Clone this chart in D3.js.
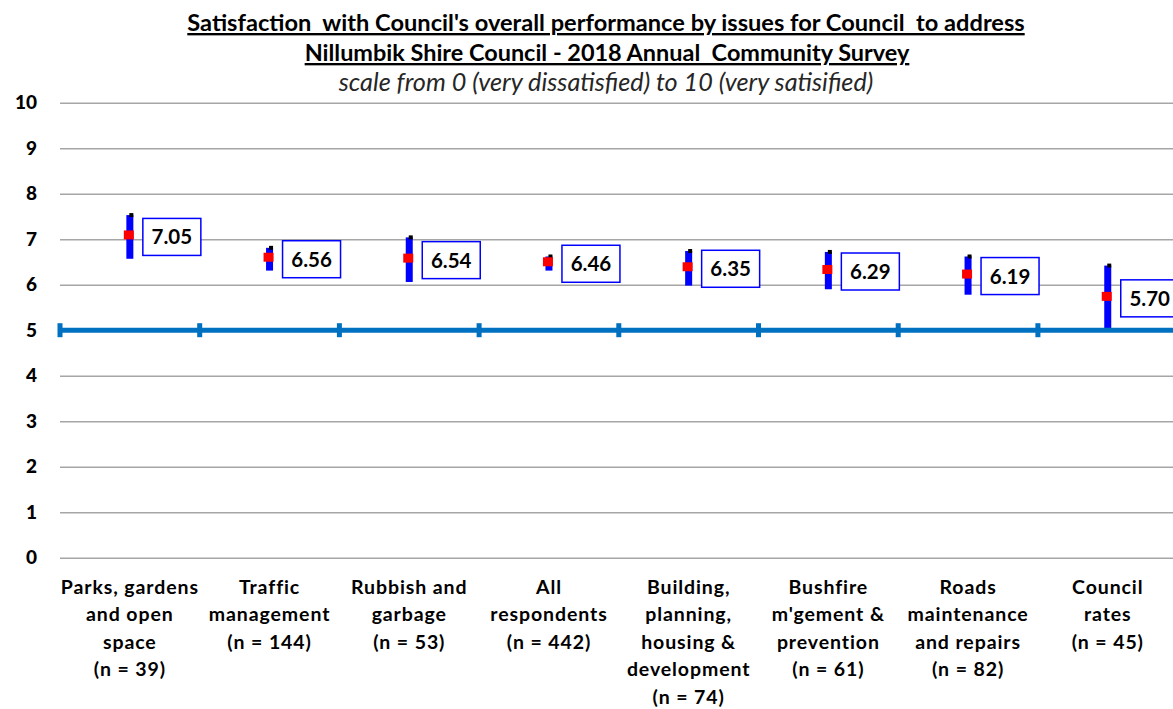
<!DOCTYPE html>
<html>
<head>
<meta charset="utf-8">
<script src="https://cdn.jsdelivr.net/npm/d3@7"></script>
<style>
  body { margin: 0; background: #fff; }
  svg { display: block; font-family: Lato, "Open Sans", sans-serif; }
</style>
</head>
<body>
<div id="chart"></div>
<script>
// chart data
const categories = [
  ["Parks, gardens", "and open", "space", "(n = 39)"],
  ["Traffic", "management", "(n = 144)"],
  ["Rubbish and", "garbage", "(n = 53)"],
  ["All", "respondents", "(n = 442)"],
  ["Building,", "planning,", "housing &", "development", "(n = 74)"],
  ["Bushfire", "m'gement &", "prevention", "(n = 61)"],
  ["Roads", "maintenance", "and repairs", "(n = 82)"],
  ["Council", "rates", "(n = 45)"]
];
const means = [7.05, 6.56, 6.54, 6.46, 6.35, 6.29, 6.19, 5.70];
const upper = [7.53, 6.81, 7.04, 6.62, 6.74, 6.72, 6.62, 6.42];
const lower = [6.57, 6.31, 6.06, 6.31, 5.98, 5.90, 5.78, 4.98];
const yTicks = [0, 1, 2, 3, 4, 5, 6, 7, 8, 9, 10];
const refValue = 5;
const titleLines = [
  "Satisfaction  with Council's overall performance by issues for Council  to address",
  "Nillumbik Shire Council - 2018 Annual  Community Survey"
];
const subtitle = "scale from 0 (very dissatisfied) to 10 (very satisified)";

const W = 1173, H = 709;
const margin = { top: 102.7, left: 60, bottom: 709 - 557.7 };
const plotRight = 1177.6;

const svg = d3.select("#chart").append("svg")
  .attr("width", W).attr("height", H);

const x = d3.scaleBand()
  .domain(d3.range(categories.length))
  .range([margin.left, plotRight])
  .padding(0);
const y = d3.scaleLinear()
  .domain([0, 10])
  .range([H - margin.bottom, margin.top]);

// fit text to a width by changing its size
function fitWidth(sel, target) {
  sel.each(function () {
    const len = this.getComputedTextLength();
    const fs = parseFloat(d3.select(this).style("font-size"));
    d3.select(this).style("font-size", (fs * target / len) + "px");
  });
}

// titles
const t1 = svg.append("text").attr("x", 606).attr("y", 31)
  .attr("text-anchor", "middle").attr("xml:space", "preserve")
  .style("font-weight", "bold").style("font-size", "19px")
  .style("text-decoration", "underline").attr("fill", "#000")
  .text(titleLines[0]);
fitWidth(t1, 838);
const t2 = svg.append("text").attr("x", 607).attr("y", 61)
  .attr("text-anchor", "middle").attr("xml:space", "preserve")
  .style("font-weight", "bold").style("font-size", "19px")
  .style("text-decoration", "underline").attr("fill", "#000")
  .text(titleLines[1]);
fitWidth(t2, 605);
const t3 = svg.append("text").attr("x", 606).attr("y", 91)
  .attr("text-anchor", "middle")
  .style("font-style", "italic").style("font-size", "19px")
  .attr("fill", "#262626")
  .text(subtitle);
fitWidth(t3, 535);

// gridlines + y labels
const yAxis = svg.append("g")
  .attr("transform", `translate(${margin.left},0)`)
  .call(d3.axisLeft(y).tickValues(yTicks).tickFormat(d3.format("d"))
    .tickSize(-(plotRight - margin.left)).tickPadding(23));
yAxis.select(".domain").remove();
yAxis.selectAll(".tick line").attr("stroke", "#a6a6a6").attr("stroke-width", 1.6);
yAxis.selectAll(".tick text")
  .attr("fill", "#000")
  .style("font-size", "19px").style("font-weight", "900")
  .style("font-family", "Lato, sans-serif");

// error bars
svg.append("g").selectAll("rect")
  .data(means)
  .join("rect")
  .attr("x", (d, i) => x(i) + x.bandwidth() / 2 - 3.5)
  .attr("y", (d, i) => y(upper[i]))
  .attr("width", 7)
  .attr("height", (d, i) => y(lower[i]) - y(upper[i]))
  .attr("fill", "#0000ff");

// small black caps
svg.append("g").selectAll("rect")
  .data(upper)
  .join("rect")
  .attr("x", (d, i) => x(i) + x.bandwidth() / 2 - 0.5)
  .attr("y", d => y(d) - 2)
  .attr("width", 4).attr("height", 4)
  .attr("fill", "#000");

// reference line at 5
const refY = y(refValue);
svg.append("line")
  .attr("x1", margin.left).attr("x2", plotRight)
  .attr("y1", refY).attr("y2", refY)
  .attr("stroke", "#0070c0").attr("stroke-width", 5);
svg.append("g").selectAll("rect")
  .data(d3.range(categories.length + 1))
  .join("rect")
  .attr("x", i => (i < categories.length ? x(i) : plotRight) - 2.5)
  .attr("y", refY - 7)
  .attr("width", 5).attr("height", 14)
  .attr("fill", "#0070c0");

// mean markers
svg.append("g").selectAll("rect")
  .data(means)
  .join("rect")
  .attr("x", (d, i) => x(i) + x.bandwidth() / 2 - 6)
  .attr("y", d => y(d) - 6.5)
  .attr("width", 10).attr("height", 9)
  .attr("fill", "#ff0000");

// value boxes
const lbl = svg.append("g").selectAll("g")
  .data(means)
  .join("g")
  .attr("transform", (d, i) => `translate(${x(i) + x.bandwidth() / 2 + 13},${y(d)})`);
lbl.append("rect")
  .attr("x", 0).attr("y", -18.5)
  .attr("width", 58).attr("height", 37)
  .attr("fill", "#fff").attr("stroke", "#0000ff").attr("stroke-width", 1.5);
lbl.append("text")
  .attr("x", 29).attr("y", 7.5)
  .attr("text-anchor", "middle")
  .style("font-size", "20.5px").style("font-weight", "bold")
  .attr("fill", "#000")
  .text(d => d3.format(".2f")(d));

// category labels
const cat = svg.append("g").selectAll("text")
  .data(categories)
  .join("text")
  .attr("text-anchor", "middle")
  .attr("fill", "#000")
  .style("font-size", "19.5px").style("font-weight", "bold")
  .style("letter-spacing", "0.9px")
  .attr("transform", (d, i) => `translate(${x(i) + x.bandwidth() / 2},593.5)`);
cat.selectAll("tspan")
  .data(d => d)
  .join("tspan")
  .attr("x", 0)
  .attr("y", (d, j) => j * 27.5)
  .text(d => d);
</script>
</body>
</html>
